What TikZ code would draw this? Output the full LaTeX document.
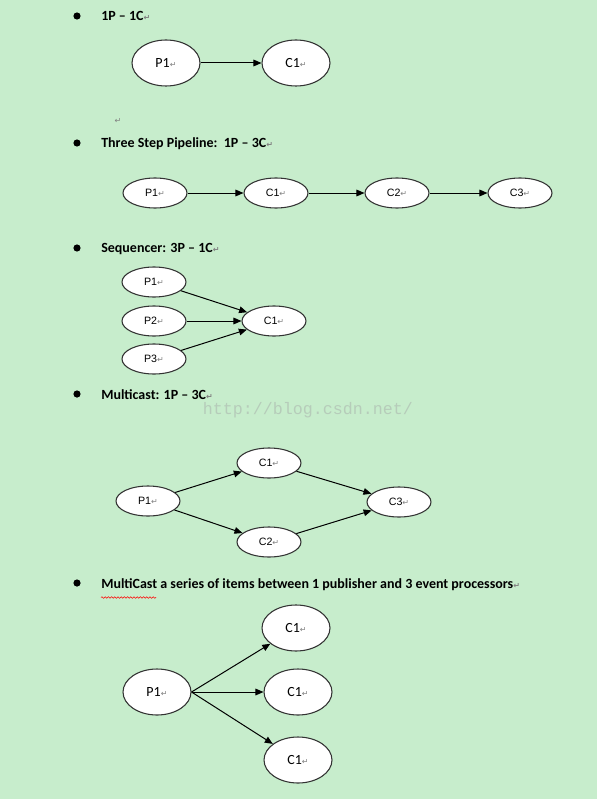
\documentclass[tikz,border=0pt]{standalone}
\usepackage{fontspec}
\setmainfont{Carlito}
\newfontfamily\arialfont{Liberation Sans}
\newfontfamily\symfont{DejaVu Sans}
\newfontfamily\markfont{Liberation Mono}
\usetikzlibrary{shapes.geometric,arrows.meta,decorations.pathmorphing}

\definecolor{pagegreen}{RGB}{199,237,204}
\definecolor{markgray}{RGB}{182,204,186}
\newcommand{\ret}{{\symfont\fontsize{6}{6}\selectfont\color{gray}↵}}

\tikzset{
	big/.style={ellipse, draw=black!80, fill=white, line width=0.8pt, inner sep=0pt,
		minimum width=51pt, minimum height=34.5pt, font=\fontsize{10.5}{12}\selectfont},
	small/.style={ellipse, draw=black!80, fill=white, line width=0.8pt, inner sep=0pt,
		minimum width=48pt, minimum height=22.5pt, font=\arialfont\fontsize{8}{10}\selectfont},
	head/.style={anchor=base west, inner sep=0pt, font=\fontsize{10.5}{12}\selectfont\bfseries},
	flow/.style={-{Triangle[length=6pt,width=5pt]}, line width=0.75pt},
}

\begin{document}
\begin{tikzpicture}[x=0.75pt, y=-0.75pt]
	\fill[pagegreen] (0,0) rectangle (597,799);
	\useasboundingbox (0,0) rectangle (597,799);
	% bullets
	\foreach \y in {16, 143, 248, 394, 583} { \fill (77,\y) circle (3.6); }
	% 1P - 1C
	\node[head] (ahead) at (101,20.7) {1P – 1C\ret};
	\node[big] (ap1) at (166,63) {P1\ret};
	\node[big] (ac1) at (296,63) {C1\ret};
	\draw[flow] (ap1) -- (ac1);
	\node[inner sep=0pt] (blank) at (118,121) {\ret};
	% three step pipeline
	\node[head] (bhead) at (101,147.7) {Three Step Pipeline:\ \ 1P – 3C\ret};
	\node[small] (bp1) at (155,193) {P1\ret};
	\node[small] (bc1) at (276,193) {C1\ret};
	\node[small] (bc2) at (397,193) {C2\ret};
	\node[small] (bc3) at (520,193) {C3\ret};
	\draw[flow] (bp1) -- (bc1);
	\draw[flow] (bc1) -- (bc2);
	\draw[flow] (bc2) -- (bc3);
	% sequencer
	\node[head] (chead) at (101,252.7) {Sequencer: 3P – 1C\ret};
	\node[small] (cp1) at (154,282) {P1\ret};
	\node[small] (cp2) at (154,321) {P2\ret};
	\node[small] (cp3) at (154,359) {P3\ret};
	\node[small] (cc1) at (274,321) {C1\ret};
	\foreach \p in {cp1, cp2, cp3} { \draw[flow] (\p) -- (cc1); }
	% multicast
	\node[head] (dhead) at (101,399.3) {Multicast: 1P – 3C\ret};
	\node[text=markgray, font=\markfont\fontsize{12.5}{14}\selectfont] (mark) at (308,410) {http://blog.csdn.net/};
	\node[small] (dp1) at (148,501) {P1\ret};
	\node[small] (dc1) at (269,463) {C1\ret};
	\node[small] (dc2) at (269,542) {C2\ret};
	\node[small] (dc3) at (399,502) {C3\ret};
	\draw[flow] (dp1) -- (dc1);
	\draw[flow] (dp1) -- (dc2);
	\draw[flow] (dc1) -- (dc3);
	\draw[flow] (dc2) -- (dc3);
	% multicast, 1 publisher and 3 event processors
	\node[head] (ehead) at (101,588.3) {MultiCast a series of items between 1 publisher and 3 event processors\ret};
	\coordinate (wavea) at (101,597.5);
	\coordinate (waveb) at (156,597.5);
	\draw[red, line width=0.4pt, decorate, decoration={snake, amplitude=0.6pt, segment length=2.4pt}] (wavea) -- (waveb);
	\node[big] (ep1) at (157,692) {P1\ret};
	\node[big] (ec1) at (296,628) {C1\ret};
	\node[big] (ec2) at (298,692) {C1\ret};
	\node[big] (ec3) at (298,760) {C1\ret};
	\foreach \c in {ec1, ec2, ec3} { \draw[flow] (ep1.east) -- (\c); }
\end{tikzpicture}
\end{document}
